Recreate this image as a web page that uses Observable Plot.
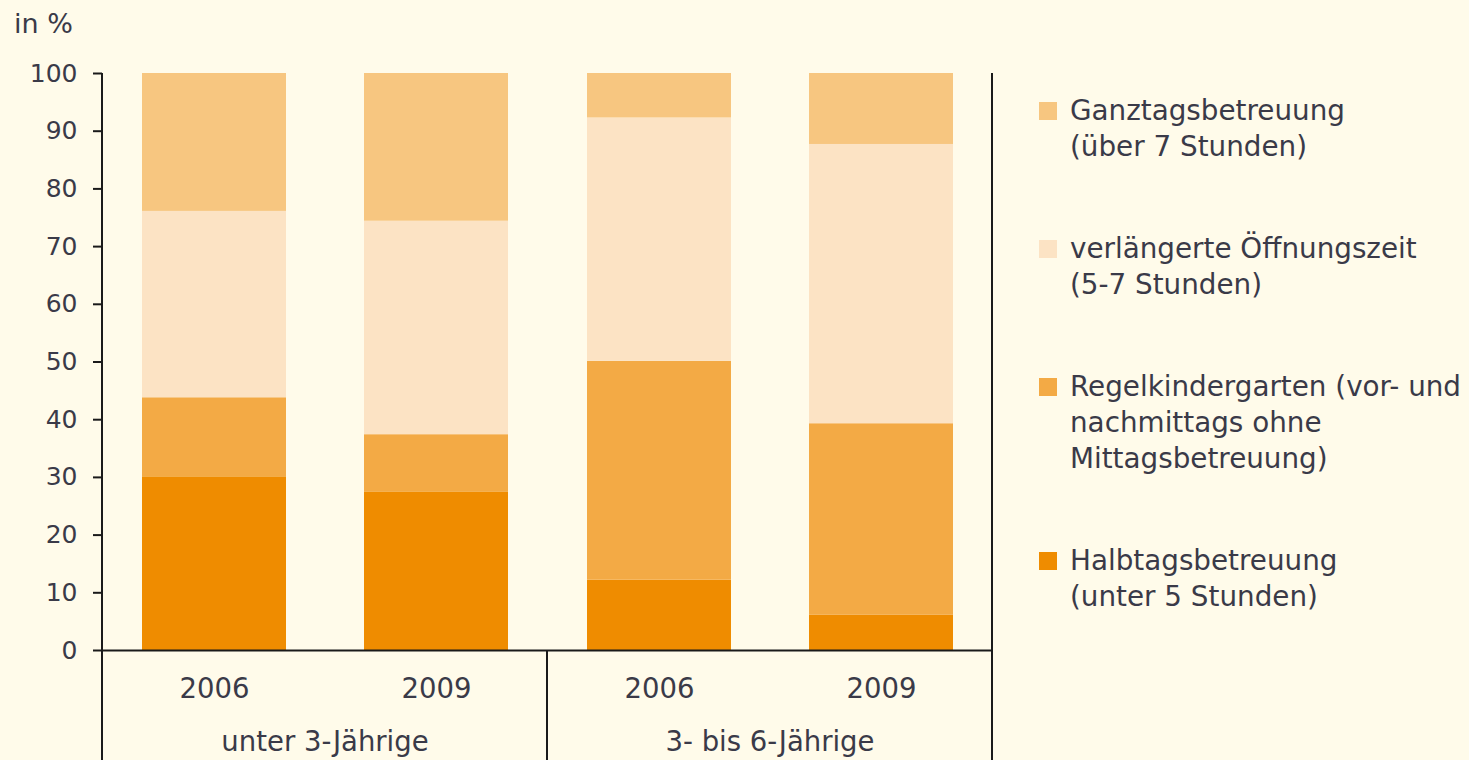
<!DOCTYPE html>
<html>
<head>
<meta charset="utf-8">
<script src="https://cdn.jsdelivr.net/npm/d3@7"></script>
<script src="https://cdn.jsdelivr.net/npm/@observablehq/plot@0.6"></script>
<style>
  html, body { margin: 0; padding: 0; background: #fffbea; }
  body { width: 1469px; height: 760px; position: relative; overflow: hidden;
         font-family: "DejaVu Sans", sans-serif; color: #3a3a48; }
  #unit { position: absolute; left: 14px; top: 9px; font-size: 27px; line-height: 30px; }
  #chart { position: absolute; left: 0; top: 0; }
  #legend { position: absolute; left: 1039px; top: 93px; display: flex; flex-direction: column; gap: 66px; }
  .item { display: flex; align-items: flex-start; }
  .sw { width: 18px; height: 18px; margin-top: 9px; flex: none; }
  .lab { margin-left: 13px; font-size: 27.8px; line-height: 36px; white-space: nowrap; }
</style>
</head>
<body>
<div id="unit">in %</div>
<div id="chart"></div>
<div id="legend"></div>
<script>
// ---- data ----
const groups = ["unter 3-Jährige", "3- bis 6-Jährige"];
const years = ["2006", "2009"];
// stack order, bottom to top
const categories = [
  "Halbtagsbetreuung (unter 5 Stunden)",
  "Regelkindergarten (vor- und nachmittags ohne Mittagsbetreuung)",
  "verlängerte Öffnungszeit (5-7 Stunden)",
  "Ganztagsbetreuung (über 7 Stunden)"
];
const legendLines = [
  ["Halbtagsbetreuung", "(unter 5 Stunden)"],
  ["Regelkindergarten (vor- und", "nachmittags ohne", "Mittagsbetreuung)"],
  ["verlängerte Öffnungszeit", "(5-7 Stunden)"],
  ["Ganztagsbetreuung", "(über 7 Stunden)"]
];
const colors = ["#ef8c00", "#f3aa45", "#fce3c4", "#f7c680"];
// values per bar: [u3 2006, u3 2009, 3-6 2006, 3-6 2009]
const halbtags = [30.1, 27.4, 12.2, 6.1];
const regel    = [13.7, 10.0, 37.9, 33.2];
const verl     = [32.3, 37.0, 42.2, 48.4];
const ganztags = [23.9, 25.6, 7.7, 12.3];
const series = [halbtags, regel, verl, ganztags];
const yTicks = [0, 10, 20, 30, 40, 50, 60, 70, 80, 90, 100];

const bars = [];
groups.forEach((g, gi) => years.forEach((yr, yi) => {
  const k = gi * 2 + yi;
  categories.forEach((c, ci) => bars.push({group: g, year: yr, category: c, value: series[ci][k]}));
}));

const W = 1000, H = 760;
const chart = Plot.plot({
  width: W, height: H,
  marginLeft: 102, marginRight: 8, marginTop: 73, marginBottom: 110,
  style: {background: "transparent", fontFamily: "DejaVu Sans, sans-serif", color: "#3a3a48"},
  fx: {domain: groups, paddingInner: 0, paddingOuter: 0, label: null},
  x: {domain: years, paddingInner: 0.353, paddingOuter: 0.1765, label: null},
  y: {domain: [0, 100], label: null},
  color: {domain: categories, range: colors},
  marks: [
    Plot.barY(bars, {fx: "group", x: "year", y: "value", fill: "category"}),
    Plot.ruleY([0], {stroke: "#1a1a1a", strokeWidth: 2}),
    Plot.axisY({ticks: yTicks, tickSize: 9, tickPadding: 16, fontSize: 25, label: null, stroke: "#1a1a1a", strokeWidth: 2, fill: "#3a3a48"}),
    Plot.axisX({tickSize: 0, tickPadding: 28, fontSize: 27.5, label: null, fill: "#3a3a48"}),
    Plot.axisFx({anchor: "bottom", tickSize: 0, tickPadding: 81, fontSize: 27.5, label: null, fill: "#3a3a48"})
  ]
});
document.getElementById("chart").appendChild(chart);

// table-like separator lines, positioned through the plot's own scales
const fxScale = chart.scale("fx"), yScale = chart.scale("y");
const yTop = yScale.apply(100), yZero = yScale.apply(0);
const xa = fxScale.apply(groups[0]);
const xb = fxScale.apply(groups[1]);
const xc = fxScale.apply(groups[1]) + fxScale.bandwidth;
const sepLines = [
  [xa, yTop, xa, H],
  [xb, yZero, xb, H],
  [xc, yTop, xc, H]
];
d3.select(chart).append("g").selectAll("line").data(sepLines).join("line")
  .attr("x1", d => d[0]).attr("y1", d => d[1]).attr("x2", d => d[2]).attr("y2", d => d[3])
  .attr("stroke", "#1a1a1a").attr("stroke-width", 2);

// legend (top to bottom = reverse stack order)
const legendEl = document.getElementById("legend");
for (let i = categories.length - 1; i >= 0; i--) {
  const item = document.createElement("div");
  item.className = "item";
  const sw = document.createElement("div");
  sw.className = "sw"; sw.style.background = colors[i];
  const lab = document.createElement("div");
  lab.className = "lab";
  legendLines[i].forEach((t, j) => {
    if (j) lab.appendChild(document.createElement("br"));
    lab.appendChild(document.createTextNode(t));
  });
  item.appendChild(sw); item.appendChild(lab);
  legendEl.appendChild(item);
}
</script>
</body>
</html>
